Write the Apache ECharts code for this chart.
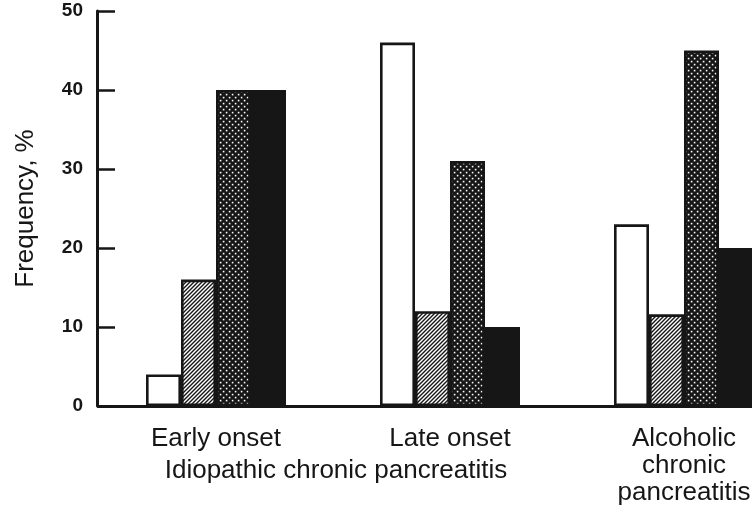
<!DOCTYPE html>
<html>
<head>
<meta charset="utf-8">
<script src="https://cdn.jsdelivr.net/npm/echarts@6/dist/echarts.min.js"></script>
<style>
html,body{margin:0;padding:0;background:#fff;}
#chart{width:752px;height:505px;}
</style>
</head>
<body>
<div id="chart"></div>
<script>
// ---- data ----
var categories = ['Early onset', 'Late onset', 'Alcoholic\nchronic\npancreatitis'];
var groupLabel = 'Idiopathic chronic pancreatitis';
var yAxisName = 'Frequency, %';
var seriesWhite = [4, 46, 23];
var seriesHatched = [16, 12, 11.6];
var seriesDotted = [40, 31, 45];
var seriesBlack = [40, 10, 20];
var yTicks = [0, 10, 20, 30, 40, 50];

// ---- patterns ----
var INK = '#161616';
function hatchPattern() {
  var c = document.createElement('canvas');
  c.width = 4; c.height = 4;
  var g = c.getContext('2d');
  g.fillStyle = '#fff'; g.fillRect(0, 0, 4, 4);
  g.strokeStyle = INK; g.lineWidth = 1.4;
  g.beginPath();
  g.moveTo(0, 4); g.lineTo(4, 0);
  g.moveTo(-1, 1); g.lineTo(1, -1);
  g.moveTo(3, 5); g.lineTo(5, 3);
  g.stroke();
  return c;
}
function dotPattern() {
  var c = document.createElement('canvas');
  c.width = 6; c.height = 6;
  var g = c.getContext('2d');
  g.fillStyle = INK; g.fillRect(0, 0, 6, 6);
  g.fillStyle = '#fff';
  g.fillRect(0.8, 0.8, 1.6, 1.6);
  g.fillRect(3.8, 3.8, 1.6, 1.6);
  return c;
}

var chart = echarts.init(document.getElementById('chart'), null, {renderer: 'canvas'});
var FONT = '"Liberation Sans", Arial, Helvetica, sans-serif';

function barSeries(data, fill) {
  return {
    type: 'bar',
    data: data,
    barWidth: 35,
    barGap: '0%',
    itemStyle: {color: fill, borderColor: INK, borderWidth: 2.6},
    emphasis: {disabled: true},
    animation: false
  };
}

chart.setOption({
  animation: false,
  backgroundColor: '#fff',
  grid: {left: 99, top: 11, width: 702, bottom: 99, containLabel: false, outerBoundsMode: 'none'},
  xAxis: {
    type: 'category',
    data: categories,
    axisLine: {lineStyle: {color: INK, width: 3}},
    axisTick: {show: false},
    axisLabel: {
      interval: 0,
      color: INK,
      fontFamily: FONT,
      fontSize: 26,
      lineHeight: 27,
      margin: 19,
      align: 'center',
      hideOverlap: false
    }
  },
  yAxis: {
    type: 'value',
    min: 0, max: 50, interval: 10,
    offset: 2,
    name: yAxisName,
    nameLocation: 'middle',
    nameRotate: 90,
    nameGap: 58,
    nameTextStyle: {color: INK, fontFamily: FONT, fontSize: 26},
    splitLine: {show: false},
    axisLine: {show: true, lineStyle: {color: INK, width: 3}},
    axisTick: {show: true, inside: true, length: 18, lineStyle: {color: INK, width: 2.5}},
    axisLabel: {
      color: INK, fontFamily: FONT, fontSize: 19, fontWeight: 'bold', margin: 14,
      formatter: function (v) { return yTicks.indexOf(v) >= 0 ? String(v) : ''; }
    }
  },
  graphic: [{
    type: 'text',
    x: 336, y: 471,
    style: {
      text: groupLabel,
      fill: INK,
      font: '26px ' + FONT,
      textAlign: 'center',
      textVerticalAlign: 'middle'
    }
  }],
  series: [
    barSeries(seriesWhite, '#ffffff'),
    barSeries(seriesHatched, {image: hatchPattern(), repeat: 'repeat'}),
    barSeries(seriesDotted, {image: dotPattern(), repeat: 'repeat'}),
    barSeries(seriesBlack, INK)
  ]
});
</script>
</body>
</html>
